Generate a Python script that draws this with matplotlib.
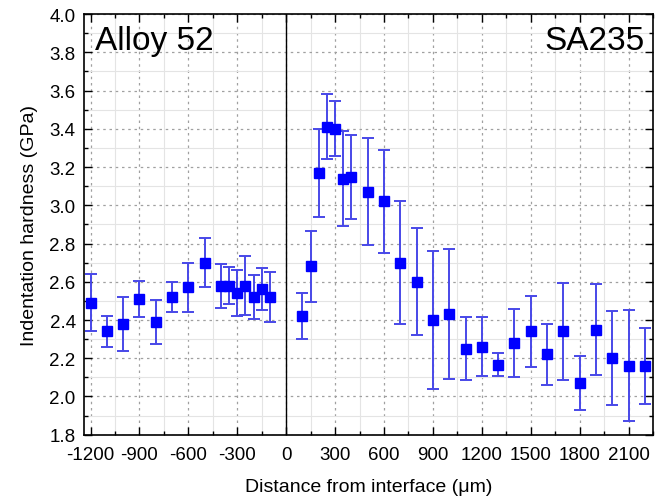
import matplotlib.pyplot as plt
from matplotlib.ticker import MultipleLocator

plt.rcParams['font.family'] = ['Liberation Sans', 'DejaVu Sans']
plt.rcParams['axes.unicode_minus'] = False

# Alloy 52 side (negative distance)
x_alloy = [-1200, -1100, -1000, -900, -800, -700, -600, -500, -400, -350, -300, -250, -200, -150, -100]
h_alloy = [2.49, 2.34, 2.38, 2.51, 2.39, 2.52, 2.57, 2.70, 2.58, 2.58, 2.54, 2.58, 2.52, 2.56, 2.52]
e_alloy = [0.15, 0.08, 0.14, 0.095, 0.115, 0.08, 0.13, 0.13, 0.115, 0.095, 0.12, 0.155, 0.115, 0.11, 0.13]

# SA235 side (positive distance)
x_sa = [100, 150, 200, 250, 300, 350, 400, 500, 600, 700, 800, 900, 1000, 1100, 1200,
        1300, 1400, 1500, 1600, 1700, 1800, 1900, 2000, 2100, 2200]
h_sa = [2.42, 2.68, 3.17, 3.41, 3.40, 3.14, 3.15, 3.07, 3.02, 2.70, 2.60, 2.40, 2.43, 2.25, 2.26,
        2.165, 2.28, 2.34, 2.22, 2.34, 2.07, 2.35, 2.20, 2.16, 2.16]
e_sa = [0.12, 0.185, 0.23, 0.17, 0.143, 0.25, 0.22, 0.28, 0.27, 0.32, 0.28, 0.36, 0.34, 0.165, 0.155,
        0.06, 0.18, 0.185, 0.16, 0.255, 0.14, 0.24, 0.245, 0.29, 0.197]

fig = plt.figure(figsize=(6.67, 5.02), dpi=100)
ax = fig.add_axes([0.126, 0.132, 0.853, 0.838])

for xs, hs, es in [(x_alloy, h_alloy, e_alloy), (x_sa, h_sa, e_sa)]:
    ax.errorbar(xs, hs, yerr=es, fmt='s', color='#0000ff', ms=7,
                ecolor='#4848e8', elinewidth=1.4, capsize=4, capthick=1.4, zorder=3)

ax.axvline(0, color='black', lw=1.0, zorder=2)

ax.set_xlim(-1240, 2250)
ax.set_ylim(1.8, 4.0)
ax.xaxis.set_major_locator(MultipleLocator(300))
ax.xaxis.set_minor_locator(MultipleLocator(150))
ax.yaxis.set_major_locator(MultipleLocator(0.2))
ax.yaxis.set_minor_locator(MultipleLocator(0.1))
ax.yaxis.set_major_formatter(plt.FormatStrFormatter('%.1f'))

ax.grid(which='major', color='#a0a0a0', linestyle=(0, (2, 3)), lw=0.9)
ax.grid(which='minor', color='#e4e4e4', linestyle='-', lw=0.8)
ax.set_axisbelow(True)

ax.tick_params(which='both', direction='in', top=True, right=True, labelsize=13.5)
ax.tick_params(which='major', length=6, width=1)
ax.tick_params(which='minor', length=3, width=1)
ax.tick_params(axis='x', pad=8)
ax.tick_params(axis='y', pad=6)
for s in ax.spines.values():
    s.set_linewidth(1.2)

ax.set_xlabel('Distance from interface (μm)', fontsize=14, labelpad=11)
ax.set_ylabel('Indentation hardness (GPa)', fontsize=14, labelpad=8)

ax.text(0.02, 0.975, 'Alloy 52', transform=ax.transAxes, fontsize=24, va='top', ha='left')
ax.text(0.985, 0.975, 'SA235', transform=ax.transAxes, fontsize=24, va='top', ha='right')

fig.savefig('out.png', dpi=100)
